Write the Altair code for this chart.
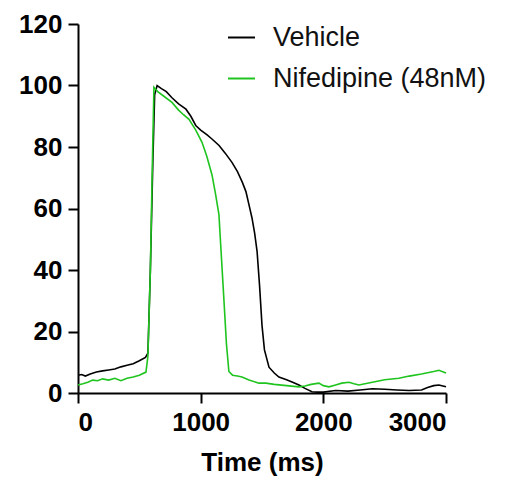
import altair as alt
import pandas as pd

series_names = ["Vehicle", "Nifedipine (48nM)"]
series_colors = ["#000000", "#1fc41f"]

veh_t = [0, 30, 60, 100, 150, 200, 250, 300, 350, 400, 450, 500, 550, 570, 590, 610, 625, 645,
         680, 720, 766, 820, 880, 920, 960, 1000, 1050, 1092, 1150, 1200, 1255, 1300, 1340, 1369,
         1395, 1418, 1440, 1460, 1480, 1500, 1520, 1557, 1600, 1638, 1700, 1750, 1801, 1850, 1907,
         1950, 2000, 2100, 2200, 2300, 2400, 2500, 2600, 2700, 2800, 2850, 2900, 2942, 3000]
veh_v = [5.8, 6.0, 5.5, 6.2, 6.8, 7.2, 7.5, 7.8, 8.5, 9.0, 9.5, 10.5, 11.6, 13, 40, 75, 97, 100,
         99, 98, 96, 94, 92.3, 90, 87, 85.5, 84, 82.6, 80.5, 78, 75, 72, 68.5, 65.5,
         61, 57, 52, 46, 35, 22, 14, 8.4, 6.5, 5.2, 4.3, 3.5, 2.6, 1.5, 0.4,
         0.3, 0.3, 0.8, 0.6, 1.0, 1.4, 1.2, 1.0, 0.8, 1.0, 1.8, 2.4, 2.6, 2.0]

nif_t = [0, 40, 80, 120, 160, 200, 250, 300, 350, 400, 450, 500, 554, 570, 590, 605, 619, 650,
         700, 766, 820, 860, 905, 960, 1010, 1050, 1092, 1120, 1149, 1165, 1190, 1210, 1230, 1260,
         1300, 1337, 1394, 1475, 1532, 1600, 1700, 1801, 1850, 1900, 1964, 2000, 2046, 2100, 2150,
         2209, 2250, 2290, 2400, 2500, 2616, 2700, 2800, 2900, 2942, 3000]
nif_v = [2.6, 3.0, 3.5, 4.2, 4.0, 4.6, 4.2, 4.8, 4.0, 4.8, 5.2, 5.8, 6.8, 12, 40, 72, 99.4, 98,
         96.5, 94.5, 92, 90.5, 89, 85.5, 81.6, 77, 71, 65, 58, 47, 30, 16, 7, 5.8,
         5.5, 5.2, 4.2, 3.2, 3.2, 2.8, 2.4, 2.0, 2.3, 2.8, 3.2, 2.4, 2.0, 2.6, 3.2,
         3.5, 3.0, 2.6, 3.5, 4.3, 4.8, 5.5, 6.2, 7.0, 7.4, 6.5]

rows = []
for t, v in zip(veh_t, veh_v):
    rows.append({"t": t, "v": v, "s": series_names[0], "o": 0})
for t, v in zip(nif_t, nif_v):
    rows.append({"t": t, "v": v, "s": series_names[1], "o": 1})
df = pd.DataFrame(rows)

FONT = "Liberation Sans"

chart = alt.Chart(df).mark_line(strokeWidth=1.6).encode(
    x=alt.X("t:Q", title="Time (ms)",
            scale=alt.Scale(domain=[0, 3000], nice=False, zero=False),
            axis=alt.Axis(values=[0, 1000, 2000, 3000], format="d")),
    y=alt.Y("v:Q", title=None,
            scale=alt.Scale(domain=[0, 120], nice=False),
            axis=alt.Axis(values=[0, 20, 40, 60, 80, 100, 120])),
    color=alt.Color("s:N", sort=series_names,
                    scale=alt.Scale(domain=series_names, range=series_colors),
                    legend=alt.Legend(title=None, orient="none", legendX=149, legendY=-1,
                                      padding=0,
                                      symbolType="stroke", symbolSize=729, symbolStrokeWidth=2,
                                      labelFontSize=27, labelFont=FONT, labelColor="#111",
                                      labelLimit=0, rowPadding=13, labelOffset=17)),
    order="o:Q",
).properties(
    width=368, height=369,
    padding={"left": 10, "top": 3, "right": 5, "bottom": 5},
).configure_view(stroke=None).configure_axis(
    grid=False, domainColor="black", domainWidth=2, tickColor="black", tickWidth=2,
    tickSize=10, labelFont=FONT, labelFontSize=26, labelFontWeight="bold", labelColor="black",
    titleFont=FONT, titleFontSize=26, titleFontWeight="bold", titleColor="black",
    labelPadding=6, titlePadding=14
)

chart.save("out.html", embed_options={"renderer": "svg", "actions": False})
